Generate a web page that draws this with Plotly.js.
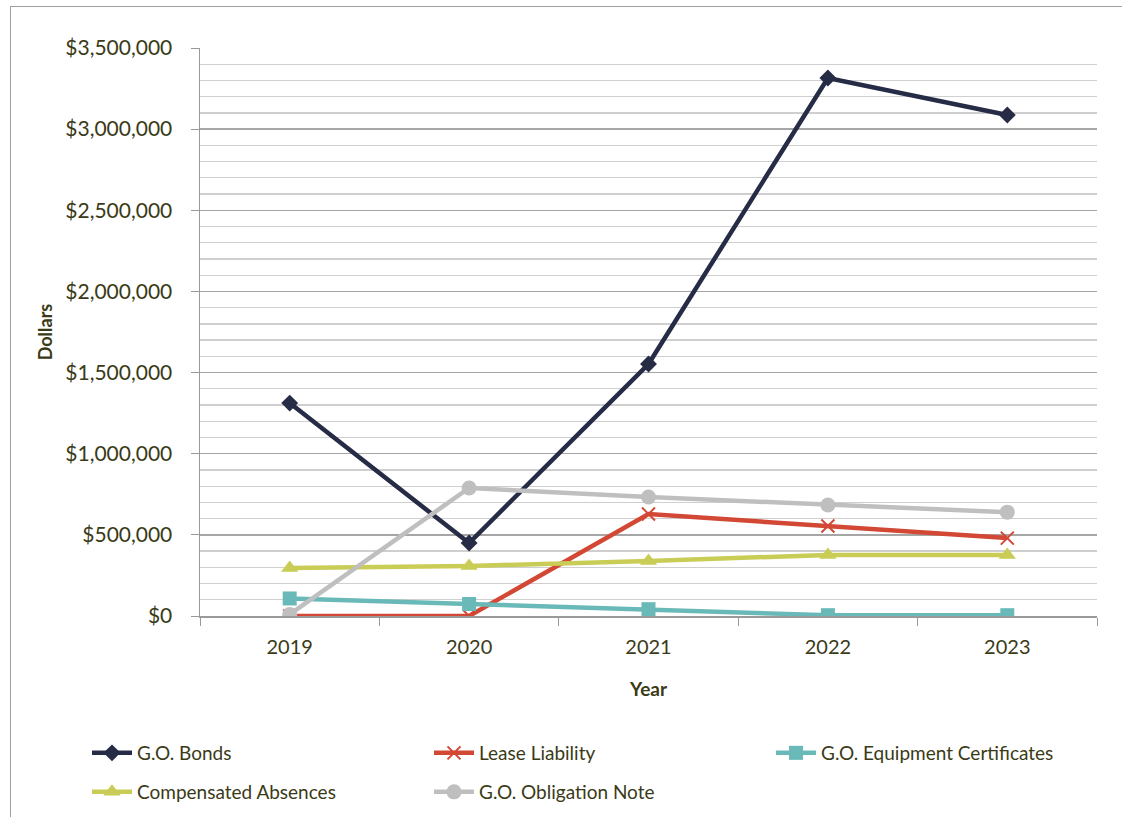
<!DOCTYPE html>
<html><head><meta charset="utf-8">
<script src="https://cdn.plot.ly/plotly-3.0.1.min.js"></script>
<style>body{margin:0;background:#fff}#wrap{position:relative;width:1122px;height:817px}#frame{position:absolute;left:10px;top:6px;width:1120px;height:820px;border:1px solid #a0a0a0;pointer-events:none}</style>
</head><body>
<div id="wrap"><div id="chart" style="width:1122px;height:817px"></div><div id="frame"></div></div>
<script>
const years = ['2019','2020','2021','2022','2023'];
const goBonds = [1312000, 450000, 1553000, 3315000, 3087000];
const leaseLiability = [0, 0, 628000, 555000, 480000];
const goEquipCerts = [108000, 74000, 42000, 5000, 5000];
const compAbsences = [296000, 308000, 339000, 376000, 376000];
const goObligationNote = [10000, 789000, 733000, 684000, 640000];

const txt = '#3a3a16';
const fam = 'Lato, Open Sans, sans-serif';
function tr(name, y, color, symbol, size, legend, mline) {
  return {x: years, y: y, name: name, type: 'scatter', mode: 'lines+markers', legend: legend,
    line: {color: color, width: 4.5},
    marker: {symbol: symbol, size: size, color: color, line: mline || {width: 0}}};
}
const data = [
  tr('G.O. Bonds', goBonds, '#262b46', 'diamond', 13, 'legend'),
  tr('Lease Liability', leaseLiability, '#d34735', 'x-thin-open', 13, 'legend2', {color: '#d34735', width: 2}),
  tr('G.O. Equipment Certificates', goEquipCerts, '#6ab9b9', 'square', 14, 'legend3'),
  tr('Compensated Absences', compAbsences, '#c9cd55', 'triangle-up', 15, 'legend4'),
  tr('G.O. Obligation Note', goObligationNote, '#bfbfbf', 'circle', 15, 'legend5')
];
function leg(xpx, ypx) {
  return {orientation: 'h', xref: 'container', yref: 'container', xanchor: 'left', yanchor: 'middle',
    x: xpx / 1122, y: 1 - ypx / 817, itemwidth: 40,
    font: {family: fam, size: 19, color: txt}, bgcolor: 'rgba(0,0,0,0)'};
}
const layout = {
  width: 1122, height: 817,
  margin: {l: 200, r: 25, t: 48, b: 201},
  paper_bgcolor: '#fff', plot_bgcolor: '#fff',
  font: {family: fam, color: txt},
  showlegend: true,
  legend: leg(87, 753), legend2: leg(429, 753), legend3: leg(771, 753),
  legend4: leg(87, 792), legend5: leg(429, 792),
  xaxis: {type: 'category', tickson: 'boundaries', ticks: 'outside', ticklen: 8, tickcolor: '#999',
    showline: true, linecolor: '#999', linewidth: 1.5, showgrid: false, zeroline: false,
    tickfont: {size: 20, color: txt}, range: [-0.5, 4.5], ticklabelstandoff: 12,
    title: {text: '<b>Year</b>', font: {size: 19, color: txt}, standoff: 26}},
  yaxis: {range: [0, 3500000], dtick: 500000, tickprefix: '$', tickformat: ',.0f',
    ticks: 'outside', ticklen: 8, tickcolor: '#999', showline: true, linecolor: '#999', linewidth: 1.5,
    showgrid: true, gridcolor: '#a6a6a6', gridwidth: 1.3, zeroline: false,
    minor: {dtick: 100000, showgrid: true, gridcolor: '#cfcfcf', gridwidth: 1.3},
    tickfont: {size: 21, color: txt}, ticklabelstandoff: 14,
    title: {text: '<b>Dollars</b>', font: {size: 18, color: txt}, standoff: 8}}
};
Plotly.newPlot('chart', data, layout, {displayModeBar: false, staticPlot: true});
</script></body></html>
